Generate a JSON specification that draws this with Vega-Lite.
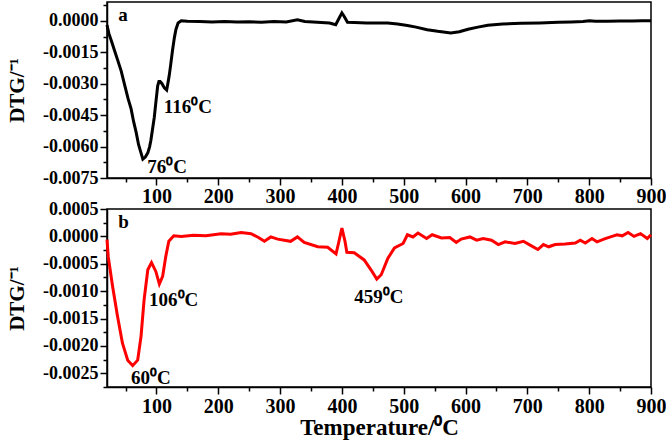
{
  "$schema": "https://vega.github.io/schema/vega-lite/v6.json",
  "padding": {"left": 5, "top": 1, "right": 5, "bottom": 2},
  "background": "white",
  "bounds": "flush",
  "spacing": 31,
  "config": {
    "view": {"stroke": "black", "strokeWidth": 1.5},
    "axis": {
      "grid": false, "domainColor": "black", "domainWidth": 1.5, "tickColor": "black", "tickWidth": 1.5,
      "labelFont": "Liberation Serif", "labelFontWeight": "bold", "labelColor": "black",
      "titleFont": "Liberation Serif", "titleFontWeight": "bold", "titleColor": "black",
      "labelOverlap": false, "labelFlush": false, "tickCount": 100
    },
    "text": {"font": "Liberation Serif", "fontWeight": "bold", "color": "black"}
  },
  "datasets": {
    "a": [
      {"t":20,"v":-0.0002},{"t":23,"v":-0.0006},{"t":26.5,"v":-0.0009},{"t":32,"v":-0.0014},{"t":37,"v":-0.00185},{"t":43,"v":-0.0024},{"t":48,"v":-0.003},{"t":54,"v":-0.0037},{"t":59,"v":-0.0042},{"t":63,"v":-0.0048},{"t":67,"v":-0.0053},{"t":71,"v":-0.0059},{"t":75,"v":-0.0063},{"t":78,"v":-0.0066},{"t":82,"v":-0.0065},{"t":86,"v":-0.0063},{"t":89,"v":-0.006},{"t":91,"v":-0.0057},{"t":94,"v":-0.0051},{"t":96.5,"v":-0.0046},{"t":99,"v":-0.0039},{"t":102,"v":-0.0031},{"t":104,"v":-0.0029},{"t":106,"v":-0.0029},{"t":109,"v":-0.003},{"t":112.8,"v":-0.0032},{"t":116.5,"v":-0.0033},{"t":119,"v":-0.0029},{"t":120.7,"v":-0.0026},{"t":123,"v":-0.0021},{"t":126,"v":-0.0014},{"t":129,"v":-0.0008},{"t":131.6,"v":-0.0004},{"t":135,"v":-0.0001},{"t":140,"v":0},{"t":150,"v":-0.00002},{"t":170,"v":-0.00003},{"t":190,"v":-0.00005},{"t":210,"v":-0.00003},{"t":230,"v":-0.00006},{"t":250,"v":-0.00004},{"t":270,"v":-0.00007},{"t":290,"v":-0.00003},{"t":310,"v":-0.00005},{"t":328,"v":0.00005},{"t":340,"v":-0.00003},{"t":360,"v":-0.00007},{"t":380,"v":-0.0001},{"t":390,"v":-0.00018},{"t":395,"v":0.0001},{"t":400,"v":0.00038},{"t":404,"v":0.0002},{"t":409,"v":-0.00007},{"t":420,"v":-0.00008},{"t":440,"v":-0.0001},{"t":460,"v":-0.0001},{"t":474,"v":-0.0001},{"t":490,"v":-0.00015},{"t":506,"v":-0.00022},{"t":520,"v":-0.0003},{"t":538,"v":-0.00042},{"t":555,"v":-0.0005},{"t":576,"v":-0.00058},{"t":590,"v":-0.00052},{"t":604,"v":-0.0004},{"t":620,"v":-0.0003},{"t":636,"v":-0.00021},{"t":660,"v":-0.00015},{"t":690,"v":-0.00012},{"t":720,"v":-0.0001},{"t":750,"v":-0.00007},{"t":771,"v":-0.00005},{"t":790,"v":-0.00003},{"t":800,"v":0.00001},{"t":810,"v":-0.00002},{"t":830,"v":-0.00002},{"t":850,"v":-0.00001},{"t":870,"v":-0.00001},{"t":885,"v":0},{"t":900,"v":0}
    ],
    "b": [
      {"t":20,"v":-0.00006},{"t":22,"v":-0.00037},{"t":29,"v":-0.00091},{"t":37,"v":-0.00146},{"t":45,"v":-0.00195},{"t":53.5,"v":-0.00226},{"t":61.5,"v":-0.00236},{"t":69.6,"v":-0.00226},{"t":75,"v":-0.00183},{"t":80,"v":-0.00116},{"t":86,"v":-0.00061},{"t":92,"v":-0.00048},{"t":99,"v":-0.00064},{"t":104.7,"v":-0.00087},{"t":110,"v":-0.00073},{"t":115,"v":-0.00037},{"t":120,"v":-0.00009},{"t":128,"v":0.00001},{"t":140,"v":0.0},{"t":160,"v":0.00002},{"t":180,"v":0.00001},{"t":204.5,"v":0.00005},{"t":220,"v":0.00004},{"t":237,"v":0.00007},{"t":253,"v":0.00005},{"t":265,"v":-0.00002},{"t":274.6,"v":-0.00009},{"t":285,"v":-0.00001},{"t":296,"v":-0.00005},{"t":317,"v":-0.00009},{"t":328,"v":-0.00001},{"t":339,"v":-0.00011},{"t":361,"v":-0.00019},{"t":377,"v":-0.0002},{"t":390.5,"v":-0.00032},{"t":394.4,"v":-0.00013},{"t":400,"v":0.00015},{"t":405,"v":-0.00009},{"t":408,"v":-0.00029},{"t":420,"v":-0.0003},{"t":436,"v":-0.00043},{"t":447,"v":-0.00061},{"t":456.4,"v":-0.00078},{"t":463.6,"v":-0.0007},{"t":474.4,"v":-0.0004},{"t":485,"v":-0.00021},{"t":499,"v":-0.00013},{"t":506,"v":0.00003},{"t":515,"v":-0.00001},{"t":523,"v":0.00006},{"t":537,"v":-0.00004},{"t":546,"v":0.00003},{"t":561,"v":-0.00003},{"t":574.6,"v":-0.00002},{"t":585,"v":-0.00011},{"t":593,"v":-0.00005},{"t":607,"v":-0.00001},{"t":618,"v":-0.00007},{"t":628.5,"v":-0.00004},{"t":642,"v":-0.00007},{"t":653,"v":-0.00015},{"t":664,"v":-0.0001},{"t":680,"v":-0.00013},{"t":693.6,"v":-0.00009},{"t":704.5,"v":-0.00016},{"t":717,"v":-0.00024},{"t":726,"v":-0.00015},{"t":734.5,"v":-0.00019},{"t":745,"v":-0.00015},{"t":761,"v":-0.00014},{"t":777.5,"v":-0.00012},{"t":785.6,"v":-0.00007},{"t":793.7,"v":-0.00012},{"t":804.5,"v":-0.00004},{"t":812.6,"v":-0.0001},{"t":826,"v":-0.00004},{"t":837,"v":0},{"t":845,"v":0.00003},{"t":853.4,"v":0.00001},{"t":863,"v":0.00007},{"t":872.5,"v":0},{"t":883,"v":0.00005},{"t":894,"v":-0.00004},{"t":900,"v":0.00003}
    ],
    "la": [
      {"t":38,"v":0.0003,"s":"a"},{"t":112,"v":-0.0041,"s":"116⁰C"},{"t":85,"v":-0.00696,"s":"76⁰C"}
    ],
    "lb": [
      {"t":38,"v":0.00027,"s":"b"},{"t":88,"v":-0.00116,"s":"106⁰C"},{"t":59,"v":-0.00258,"s":"60⁰C"},{"t":420,"v":-0.0011,"s":"459⁰C"}
    ]
  },
  "vconcat": [
    {
      "width": 544, "height": 176,
      "layer": [
        {
          "data": {"name": "a"},
          "mark": {"type": "line", "color": "black", "strokeWidth": 3},
          "encoding": {
            "x": {"field": "t", "type": "quantitative", "scale": {"domain": [20, 900], "nice": false},
              "axis": {"title": null, "values": [50,100,150,200,250,300,350,400,450,500,550,600,650,700,750,800,850,900],
                "labelExpr": "round(datum.value) % 100 == 0 ? datum.label : ''", "labelOverlap": false, "tickCount": 100,
                "labelFontSize": {"condition": {"test": "round(datum.value) % 100 == 0", "value": 20}, "value": 0},
                "tickSize": {"condition": {"test": "round(datum.value) % 100 == 0", "value": 7}, "value": 4}, "labelPadding": 1}},
            "y": {"field": "v", "type": "quantitative", "scale": {"domain": [-0.0075, 0.0009], "nice": false, "zero": false},
              "axis": {"title": "DTG/⁻¹", "titleFontSize": 21, "titlePadding": 15, "labelOverlap": false, "tickCount": 100,
                "values": [0.00075, 0, -0.00075, -0.0015, -0.00225, -0.003, -0.00375, -0.0045, -0.00525, -0.006, -0.00675, -0.0075],
                "labelExpr": "abs(round(datum.value/0.00075)) % 2 == 0 ? replace(format(datum.value, '.4f'), '−', '-') : ''",
                "labelFontSize": {"condition": {"test": "abs(round(datum.value/0.00075)) % 2 == 0", "value": 18}, "value": 0},
                "labelPadding": 2,
                "tickSize": {"condition": {"test": "abs(round(datum.value/0.00075)) % 2 == 0", "value": 7}, "value": 4}}}
          }
        },
        {
          "data": {"name": "la"},
          "mark": {"type": "text", "align": "left", "baseline": "middle", "fontSize": 19},
          "encoding": {
            "x": {"field": "t", "type": "quantitative"},
            "y": {"field": "v", "type": "quantitative"},
            "text": {"field": "s"}
          }
        }
      ]
    },
    {
      "width": 544, "height": 178,
      "layer": [
        {
          "data": {"name": "b"},
          "mark": {"type": "line", "color": "#ff0000", "strokeWidth": 3},
          "encoding": {
            "x": {"field": "t", "type": "quantitative", "scale": {"domain": [20, 900], "nice": false},
              "axis": {"title": "Temperature/⁰C", "titleFontSize": 23, "titlePadding": 0, "labelOverlap": false, "tickCount": 100,
                "values": [50,100,150,200,250,300,350,400,450,500,550,600,650,700,750,800,850,900],
                "labelExpr": "round(datum.value) % 100 == 0 ? datum.label : ''",
                "labelFontSize": {"condition": {"test": "round(datum.value) % 100 == 0", "value": 20}, "value": 0},
                "tickSize": {"condition": {"test": "round(datum.value) % 100 == 0", "value": 7}, "value": 4}, "labelPadding": 2}},
            "y": {"field": "v", "type": "quantitative", "scale": {"domain": [-0.00275, 0.0005], "nice": false, "zero": false},
              "axis": {"title": "DTG/⁻¹", "titleFontSize": 21, "titlePadding": 15, "labelOverlap": false, "tickCount": 100,
                "values": [0.0005, 0.00025, 0, -0.00025, -0.0005, -0.00075, -0.001, -0.00125, -0.0015, -0.00175, -0.002, -0.00225, -0.0025, -0.00275],
                "labelExpr": "abs(round(datum.value/0.00025)) % 2 == 0 ? replace(format(datum.value, '.4f'), '−', '-') : ''",
                "labelFontSize": {"condition": {"test": "abs(round(datum.value/0.00025)) % 2 == 0", "value": 18}, "value": 0},
                "labelPadding": 2,
                "tickSize": {"condition": {"test": "abs(round(datum.value/0.00025)) % 2 == 0", "value": 7}, "value": 4}}}
          }
        },
        {
          "data": {"name": "lb"},
          "mark": {"type": "text", "align": "left", "baseline": "middle", "fontSize": 19},
          "encoding": {
            "x": {"field": "t", "type": "quantitative"},
            "y": {"field": "v", "type": "quantitative"},
            "text": {"field": "s"}
          }
        }
      ]
    }
  ]
}
